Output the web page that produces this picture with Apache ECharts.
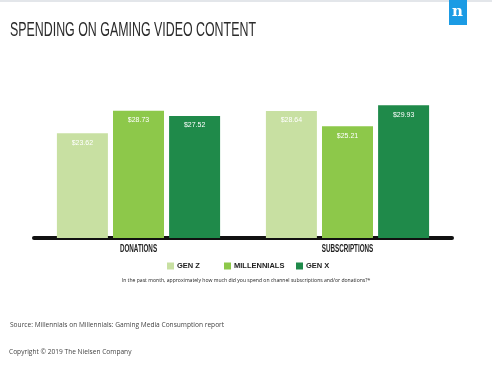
<!DOCTYPE html>
<html>
<head>
<meta charset="utf-8">
<script src="https://cdn.jsdelivr.net/npm/echarts@6/dist/echarts.min.js"></script>
<style>
  html, body { margin: 0; padding: 0; background: #fff; }
  #chart { width: 492px; height: 377px; }
</style>
</head>
<body>
<div id="chart"></div>
<script>
// data
const categories = ["DONATIONS", "SUBSCRIPTIONS"];
const seriesNames = ["GEN Z", "MILLENNIALS", "GEN X"];
const genZ = [23.62, 28.64];
const millennials = [28.73, 25.21];
const genX = [27.52, 29.93];
const colors = ["#c8e0a2", "#8dc84a", "#1f8a4a"];

const sans = '"Liberation Sans", Arial, sans-serif';
const legendLefts = [167, 224, 296];

function makeBar(name, data, color) {
  return {
    name: name,
    type: "bar",
    data: data,
    barWidth: 51,
    barGap: "10%",
    itemStyle: { color: color },
    label: {
      show: true,
      position: "insideTop",
      distance: 6,
      color: "#fff",
      fontFamily: sans,
      fontSize: 7,
      formatter: function (p) {
        return "$" + p.value.toFixed(2);
      },
    },
  };
}

// one small legend per series so each item sits where the original has it
function makeLegend(name, i) {
  return {
    data: [name],
    top: 262,
    left: legendLefts[i],
    padding: 0,
    itemWidth: 7,
    itemHeight: 7,
    itemGap: 0,
    icon: "rect",
    selectedMode: false,
    textStyle: {
      fontFamily: sans,
      fontWeight: "bold",
      fontSize: 7.5,
      color: "#222",
      padding: [0, 0, 0, -2],
    },
  };
}

const chart = echarts.init(document.getElementById("chart"));
const option = {
  backgroundColor: "#fff",
  animation: false,
  grid: { left: 34, right: 40, top: 105, bottom: 139 },
  legend: seriesNames.map(makeLegend),
  xAxis: {
    type: "category",
    data: categories,
    axisLine: { lineStyle: { color: "#111", width: 4 } },
    axisTick: { show: false },
    // drawn below as condensed text
    axisLabel: { show: false },
  },
  yAxis: {
    type: "value",
    min: 0,
    max: 30,
    show: false,
  },
  series: [
    makeBar(seriesNames[0], genZ, colors[0]),
    makeBar(seriesNames[1], millennials, colors[1]),
    makeBar(seriesNames[2], genX, colors[2]),
  ],
  graphic: [
    // thin grey strip along the top edge
    { type: "rect", left: 0, top: 0, shape: { width: 492, height: 2 }, style: { fill: "#e3e6ea" } },
    // nielsen logo
    { type: "rect", left: 449, top: 0, shape: { width: 18, height: 25 }, style: { fill: "#1b9be4" } },
    {
      type: "text", left: 452, top: 5,
      style: { text: "n", fill: "#fff", font: "bold 15px 'DejaVu Serif', serif" },
    },
    {
      type: "text", x: 10, y: 20,
      scaleX: 0.62,
      style: { text: "SPENDING ON GAMING VIDEO CONTENT", fill: "#2b2b2b", font: "20px " + sans },
    },
    {
      type: "text", left: "center", top: 278,
      style: {
        text: "In the past month, approximately how much did you spend on channel subscriptions and/or donations?*",
        fill: "#222", font: "5.1px 'Open Sans', sans-serif",
      },
    },
    {
      type: "text", left: 10, top: 322,
      style: { text: "Source: Millennials on Millennials: Gaming Media Consumption report", fill: "#444", font: "6.6px 'Open Sans', sans-serif" },
    },
    {
      type: "text", left: 9, top: 349,
      style: { text: "Copyright \u00a9 2019 The Nielsen Company", fill: "#444", font: "6.6px 'Open Sans', sans-serif" },
    },
  ],
};
chart.setOption(option);

// category names under the axis, placed from the axis scale, squeezed like the original font
const catLabels = categories.map(function (c) {
  const x = chart.convertToPixel({ xAxisIndex: 0 }, c);
  return {
    type: "text",
    x: x,
    y: 243,
    scaleX: 0.57,
    style: {
      text: c,
      align: "center",
      fill: "#222",
      font: "bold 11px " + sans,
    },
  };
});
chart.setOption({ graphic: option.graphic.concat(catLabels) });
</script>
</body>
</html>
